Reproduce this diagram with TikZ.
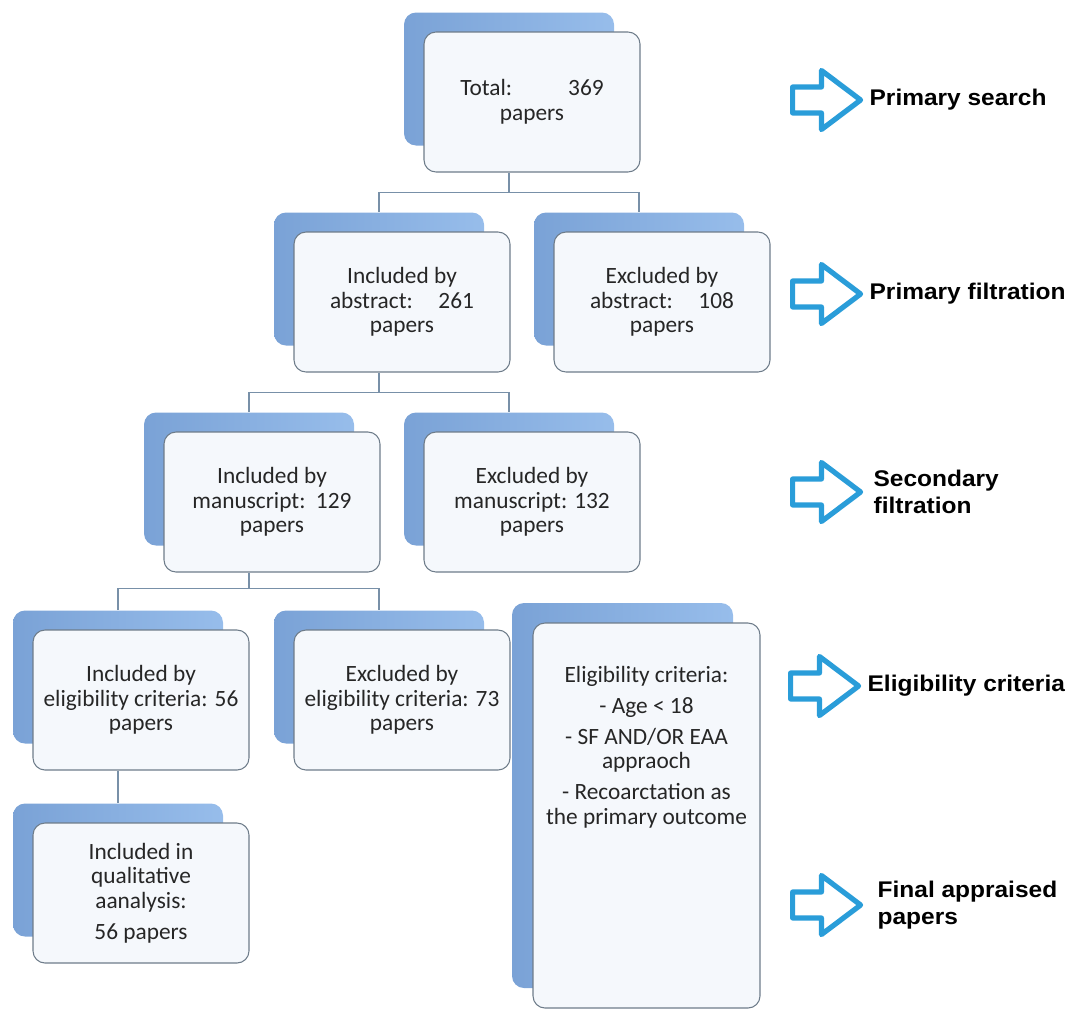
\documentclass[tikz,border=0pt]{standalone}
\usepackage{fontspec}
\setmainfont{Carlito}
\newfontfamily\lblfont{Liberation Sans}[FakeStretch=1.08]
\usepackage{tikz}
\usetikzlibrary{positioning,shapes.arrows,backgrounds}

\definecolor{backblueL}{HTML}{7AA2D6}
\definecolor{backblueR}{HTML}{97BDEB}
\definecolor{frontfill}{HTML}{F5F8FC}
\definecolor{frontline}{HTML}{6E7C8A}
\definecolor{busline}{HTML}{7890A8}
\definecolor{arrowblue}{HTML}{2A9DD9}
\definecolor{boxtext}{HTML}{262626}

\begin{document}
\begin{tikzpicture}[x=0.75pt,y=-0.75pt,
  boxfont/.style={text=boxtext,align=center,font=\fontsize{17.5}{18.5}\selectfont},
  frontbox/.style={boxfont,draw=frontline,line width=0.8pt,fill=frontfill,rounded corners=9pt,
    minimum width=162pt,minimum height=105pt},
  backbox/.style={rounded corners=9pt,left color=backblueL,right color=backblueR,
    minimum width=157.5pt,minimum height=99.75pt},
  bus/.style={draw=busline,line width=1.1pt},
  stagearrow/.style={single arrow,draw=arrowblue,line width=3.9pt,fill=white,
    minimum height=51pt,minimum width=0pt,inner xsep=0pt,inner ysep=7.8pt,
    text height=0pt,text depth=0pt,single arrow head extend=12.4pt,
    single arrow tip angle=74,line join=round},
  stagelabel/.style={font=\lblfont\bfseries\fontsize{17}{20}\selectfont,align=left}]
  \useasboundingbox (0,0) rectangle (1074,1014);

  % search tree
  \node[frontbox] (tot)  at (532,102) {Total:\hspace{2.4em}369\\papers};
  \node[frontbox] (inab) at (402,302) {Included by\\abstract:\hspace{1.1em}261\\papers};
  \node[frontbox] (exab) at (662,302) {Excluded by\\abstract:\hspace{1.1em}108\\papers};
  \node[frontbox] (inms) at (272,502) {Included by\\manuscript:\hspace{0.45em}129\\papers};
  \node[frontbox] (exms) at (532,502) {Excluded by\\manuscript: 132\\papers};
  \node[frontbox] (inel) at (141,700) {Included by\\eligibility criteria: 56\\papers};
  \node[frontbox] (exel) at (402,700) {Excluded by\\eligibility criteria: 73\\papers};
  \node[frontbox] (qual) at (141,893) {Included in\\qualitative\\aanalysis:\\[4.5pt]56 papers};
  \node[frontbox,minimum width=170.25pt,minimum height=288.75pt] (crit) at (646.5,815.5) {};
  \node[boxfont,inner sep=0pt,below=33pt of crit.north] (crit-txt)
    {Eligibility criteria:\\[4.5pt]- Age < 18\\[4.5pt]- SF AND/OR EAA\\appraoch\\[4.5pt]- Recoarctation as\\the primary outcome};

  \begin{scope}[on background layer]
    \foreach \n in {tot,inab,exab,inms,exms,inel,exel,qual}
      \node[backbox] (\n-b) at ([shift={(-23,-23)}]\n.center) {};
    \node[backbox,minimum width=165.75pt,minimum height=288.75pt] (crit-b)
      at ([shift={(-24,-20)}]crit.center) {};
  \end{scope}

  % connectors
  \draw[bus] (tot-b.center |- tot.south) -- ++(0,20) coordinate (bus1);
  \draw[bus] (inab-b.north) |- (bus1) -| (exab-b.north);
  \draw[bus] (inab-b.center |- inab.south) -- ++(0,20) coordinate (bus2);
  \draw[bus] (inms-b.north) |- (bus2) -| (exms-b.north);
  \draw[bus] (inms-b.center |- inms.south) -- ++(0,16) coordinate (bus3);
  \draw[bus] (inel-b.north) |- (bus3) -| (exel-b.north);
  \draw[bus] (inel-b.center |- inel.south) -- (qual-b.north);

  % stages
  \node[stagearrow] (a1) at (818,100) {};
  \node[stagelabel,right=0pt of a1] (l1) {Primary search};
  \node[stagearrow] (a2) at (818,294) {};
  \node[stagelabel,right=0pt of a2] (l2) {Primary filtration};
  \node[stagearrow] (a3) at (818,492) {};
  \node[stagelabel,right=3pt of a3] (l3) {Secondary\\filtration};
  \node[stagearrow] (a4) at (816,686) {};
  \node[stagelabel,right=0pt of a4] (l4) {Eligibility criteria};
  \node[stagearrow] (a5) at (818,905) {};
  \node[stagelabel,right=6pt of a5] (l5) {Final appraised\\papers};
\end{tikzpicture}
\end{document}
